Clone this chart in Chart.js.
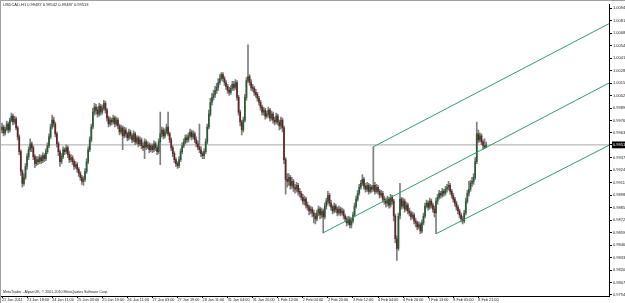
<!DOCTYPE html>
<html>
<head>
<meta charset="utf-8">
<script src="https://cdn.jsdelivr.net/npm/chart.js@4.4.1/dist/chart.umd.min.js"></script>
<style>
html, body { margin: 0; padding: 0; background: #fff; overflow: hidden; width: 625px; height: 303px; }
#wrap { position: absolute; left: 0; top: 0; width: 640px; height: 303px; box-sizing: border-box;
        border-left: 1px solid #a0a0a0; border-top: 1px solid #a0a0a0; }
#c { position: absolute; left: 0; top: 0; }
.txt { position: absolute; left: 3px; font-family: "Liberation Sans", Arial, sans-serif; color: #222; white-space: nowrap; }
</style>
</head>
<body>
<div id="wrap">
  <canvas id="c" width="639" height="302"></canvas>
</div>
<div class="txt" id="hdr" style="top:2px;font-size:4px;"></div>
<div class="txt" style="top:290px;font-size:3.6px;">MetaTrader - Alpari UK, © 2001-2010 MetaQuotes Software Corp.</div>
<script>
var symbol = "USDCAD,H1";
var bidPrice = 0.99513;

// one hourly bar per entry, 21 Jan 2011 -> 9 Feb 2011
var opens = [
0.99669,0.99700,0.99638,0.99679,0.99731,0.99669,0.99772,0.99814,0.99752,0.99783,
0.99690,0.99597,0.99442,0.99235,0.99111,0.99173,0.99287,0.99390,0.99462,0.99524,
0.99483,0.99390,0.99318,0.99359,0.99338,0.99380,0.99349,0.99400,0.99369,0.99442,
0.99504,0.99597,0.99700,0.99772,0.99731,0.99628,0.99524,0.99442,0.99338,0.99390,
0.99462,0.99442,0.99483,0.99411,0.99359,0.99380,0.99338,0.99287,0.99307,0.99256,
0.99214,0.99173,0.99132,0.99152,0.99235,0.99338,0.99462,0.99566,0.99700,0.99855,
0.99907,0.99876,0.99834,0.99917,0.99855,0.99896,0.99948,0.99876,0.99793,0.99731,
0.99772,0.99752,0.99793,0.99731,0.99772,0.99710,0.99648,0.99690,0.99607,0.99669,
0.99628,0.99586,0.99648,0.99607,0.99566,0.99628,0.99545,0.99586,0.99524,0.99566,
0.99504,0.99483,0.99545,0.99493,0.99514,0.99462,0.99504,0.99462,0.99524,0.99483,
0.99442,0.99545,0.99628,0.99669,0.99607,0.99648,0.99700,0.99628,0.99566,0.99483,
0.99421,0.99359,0.99318,0.99297,0.99359,0.99442,0.99504,0.99545,0.99586,0.99566,
0.99607,0.99648,0.99597,0.99628,0.99566,0.99524,0.99493,0.99462,0.99421,0.99400,
0.99442,0.99545,0.99700,0.99834,0.99959,1.00010,1.00041,1.00083,1.00114,1.00165,
1.00207,1.00248,1.00207,1.00165,1.00124,1.00083,1.00062,1.00103,1.00145,1.00114,
1.00165,1.00010,0.99855,0.99752,0.99669,0.99772,1.00010,1.00186,1.00227,1.00165,
1.00114,1.00103,1.00062,1.00041,1.00000,0.99959,0.99907,0.99855,0.99876,0.99814,
0.99834,0.99876,0.99793,0.99834,0.99772,0.99752,0.99814,0.99752,0.99710,0.99772,
0.99690,0.99359,0.99152,0.99132,0.99173,0.99090,0.99132,0.99070,0.99049,0.99090,
0.99028,0.99008,0.98966,0.98925,0.98946,0.98884,0.98863,0.98822,0.98842,0.98801,
0.98770,0.98739,0.98801,0.98842,0.98780,0.98822,0.98760,0.98873,0.98925,0.98987,
0.98904,0.98863,0.98822,0.98873,0.98842,0.98801,0.98842,0.98801,0.98822,0.98770,
0.98739,0.98698,0.98739,0.98677,0.98718,0.98780,0.98873,0.98946,0.99008,0.99070,
0.99111,0.99152,0.99080,0.99049,0.99090,0.99028,0.99070,0.99049,0.99090,0.99028,
0.99070,0.99028,0.98987,0.99008,0.98946,0.98925,0.98904,0.98946,0.98884,0.98966,
0.98925,0.98770,0.98532,0.98430,0.98770,0.98946,0.98873,0.98925,0.98842,0.98884,
0.98822,0.98801,0.98760,0.98780,0.98718,0.98698,0.98656,0.98677,0.98615,0.98698,
0.98770,0.98873,0.98904,0.98863,0.98925,0.98884,0.98842,0.98801,0.98925,0.98966,
0.99008,0.98987,0.99028,0.99008,0.99049,0.99070,0.99090,0.99028,0.98987,0.98946,
0.98904,0.98863,0.98822,0.98780,0.98739,0.98718,0.98801,0.98925,0.99008,0.99049,
0.99111,0.99132,0.99173,0.99338,0.99628,0.99566,0.99607,0.99545,0.99504,0.99487
];
var highs = [
0.99741,0.99721,0.99700,0.99762,0.99752,0.99793,0.99845,0.99834,0.99814,0.99803,
0.99710,0.99617,0.99462,0.99256,0.99214,0.99318,0.99421,0.99493,0.99576,0.99545,
0.99504,0.99411,0.99390,0.99390,0.99411,0.99400,0.99431,0.99421,0.99473,0.99535,
0.99628,0.99731,0.99824,0.99803,0.99752,0.99648,0.99545,0.99462,0.99421,0.99493,
0.99483,0.99514,0.99504,0.99442,0.99411,0.99400,0.99359,0.99338,0.99328,0.99276,
0.99235,0.99194,0.99183,0.99266,0.99369,0.99493,0.99597,0.99731,0.99896,0.99948,
0.99938,0.99907,0.99948,0.99938,0.99928,0.99979,0.99969,0.99896,0.99814,0.99803,
0.99793,0.99824,0.99814,0.99803,0.99793,0.99731,0.99721,0.99710,0.99700,0.99690,
0.99648,0.99679,0.99669,0.99628,0.99659,0.99648,0.99607,0.99607,0.99597,0.99586,
0.99535,0.99576,0.99566,0.99545,0.99535,0.99524,0.99524,0.99555,0.99545,0.99504,
0.99576,0.99855,0.99700,0.99690,0.99679,0.99731,0.99855,0.99648,0.99586,0.99504,
0.99442,0.99380,0.99338,0.99390,0.99473,0.99535,0.99576,0.99617,0.99617,0.99638,
0.99679,0.99669,0.99659,0.99648,0.99597,0.99555,0.99731,0.99493,0.99442,0.99473,
0.99576,0.99731,0.99876,1.00000,1.00052,1.00083,1.00124,1.00155,1.00207,1.00248,
1.00269,1.00269,1.00227,1.00186,1.00145,1.00114,1.00134,1.00176,1.00176,1.00196,
1.00186,1.00031,0.99876,0.99772,0.99803,1.00041,1.00217,1.00558,1.00248,1.00196,
1.00145,1.00124,1.00093,1.00062,1.00021,0.99979,0.99928,0.99907,0.99896,0.99865,
0.99907,0.99896,0.99865,0.99855,0.99803,0.99845,0.99834,0.99772,0.99803,0.99793,
0.99710,0.99380,0.99214,0.99214,0.99194,0.99173,0.99152,0.99101,0.99121,0.99111,
0.99059,0.99028,0.98997,0.98977,0.98966,0.98915,0.98884,0.98873,0.98863,0.98832,
0.98801,0.98832,0.98873,0.98863,0.98853,0.98842,0.98904,0.98956,0.99028,0.99008,
0.98935,0.98884,0.98904,0.98894,0.98863,0.98873,0.98863,0.98853,0.98842,0.98791,
0.98760,0.98770,0.98760,0.98749,0.98811,0.98904,0.98977,0.99039,0.99101,0.99142,
0.99204,0.99173,0.99111,0.99121,0.99111,0.99101,0.99090,0.99493,0.99121,0.99101,
0.99090,0.99049,0.99039,0.99028,0.98977,0.98956,0.98977,0.98966,0.98997,0.98987,
0.98946,0.98791,0.98563,0.98801,0.99111,0.98966,0.98956,0.98946,0.98915,0.98904,
0.98853,0.98822,0.98811,0.98801,0.98749,0.98718,0.98708,0.98698,0.98729,0.98801,
0.98904,0.98935,0.98925,0.98956,0.98946,0.98904,0.98873,0.98956,0.98997,0.99039,
0.99028,0.99059,0.99049,0.99080,0.99101,0.99132,0.99111,0.99049,0.99008,0.98966,
0.98925,0.98884,0.98842,0.98801,0.98770,0.98832,0.98956,0.99039,0.99132,0.99142,
0.99173,0.99214,0.99380,0.99752,0.99669,0.99638,0.99628,0.99566,0.99576,0.99542
];
var lows = [
0.99638,0.99607,0.99617,0.99659,0.99638,0.99648,0.99752,0.99721,0.99731,0.99669,
0.99566,0.99411,0.99194,0.99070,0.99090,0.99152,0.99256,0.99359,0.99442,0.99442,
0.99359,0.99276,0.99297,0.99307,0.99318,0.99318,0.99328,0.99338,0.99349,0.99421,
0.99483,0.99576,0.99679,0.99700,0.99597,0.99493,0.99400,0.99287,0.99318,0.99369,
0.99411,0.99421,0.99380,0.99328,0.99338,0.99307,0.99256,0.99266,0.99225,0.99183,
0.99142,0.99101,0.99090,0.99132,0.99214,0.99318,0.99442,0.99545,0.99679,0.99824,
0.99834,0.99803,0.99814,0.99824,0.99834,0.99876,0.99845,0.99762,0.99700,0.99710,
0.99721,0.99731,0.99700,0.99710,0.99679,0.99617,0.99628,0.99462,0.99586,0.99597,
0.99555,0.99566,0.99576,0.99535,0.99545,0.99514,0.99524,0.99493,0.99504,0.99473,
0.99452,0.99369,0.99462,0.99473,0.99431,0.99442,0.99431,0.99442,0.99452,0.99411,
0.99421,0.99307,0.99597,0.99576,0.99586,0.99628,0.99607,0.99535,0.99452,0.99390,
0.99328,0.99287,0.99266,0.99276,0.99338,0.99421,0.99483,0.99524,0.99535,0.99545,
0.99586,0.99566,0.99576,0.99535,0.99493,0.99462,0.99431,0.99390,0.99369,0.99369,
0.99421,0.99524,0.99679,0.99814,0.99928,0.99979,1.00010,1.00052,1.00083,1.00145,
1.00186,1.00176,1.00134,1.00093,1.00052,1.00031,1.00041,1.00083,1.00083,1.00093,
0.99979,0.99824,0.99710,0.99617,0.99648,0.99752,0.99979,1.00165,1.00134,1.00083,
1.00072,1.00031,1.00010,0.99969,0.99928,0.99876,0.99824,0.99824,0.99783,0.99793,
0.99803,0.99762,0.99772,0.99741,0.99721,0.99731,0.99721,0.99669,0.99679,0.99648,
0.99318,0.98997,0.99070,0.99090,0.99049,0.99059,0.99028,0.99008,0.99018,0.98987,
0.98966,0.98935,0.98894,0.98884,0.98853,0.98832,0.98780,0.98791,0.98760,0.98698,
0.98687,0.98718,0.98770,0.98739,0.98749,0.98594,0.98739,0.98842,0.98894,0.98873,
0.98832,0.98791,0.98801,0.98811,0.98770,0.98780,0.98770,0.98780,0.98739,0.98708,
0.98667,0.98677,0.98646,0.98646,0.98698,0.98760,0.98853,0.98925,0.98987,0.99049,
0.99090,0.99049,0.99018,0.99028,0.98997,0.99008,0.99018,0.99028,0.98997,0.99008,
0.98997,0.98956,0.98966,0.98915,0.98894,0.98863,0.98873,0.98853,0.98863,0.98894,
0.98718,0.98491,0.98306,0.98409,0.98739,0.98842,0.98853,0.98811,0.98822,0.98791,
0.98770,0.98729,0.98739,0.98687,0.98656,0.98625,0.98636,0.98584,0.98594,0.98677,
0.98749,0.98853,0.98832,0.98842,0.98853,0.98811,0.98760,0.98584,0.98894,0.98946,
0.98956,0.98966,0.98977,0.98987,0.99018,0.99039,0.98997,0.98956,0.98915,0.98873,
0.98832,0.98791,0.98749,0.98708,0.98687,0.98698,0.98780,0.98904,0.98977,0.99028,
0.99080,0.99101,0.99152,0.99318,0.99535,0.99545,0.99514,0.99462,0.99473,0.99487
];
var closes = [
0.99700,0.99638,0.99679,0.99731,0.99669,0.99772,0.99814,0.99752,0.99783,0.99690,
0.99597,0.99442,0.99235,0.99111,0.99173,0.99287,0.99390,0.99462,0.99524,0.99483,
0.99390,0.99318,0.99359,0.99338,0.99380,0.99349,0.99400,0.99369,0.99442,0.99504,
0.99597,0.99700,0.99772,0.99731,0.99628,0.99524,0.99442,0.99338,0.99390,0.99462,
0.99442,0.99483,0.99411,0.99359,0.99380,0.99338,0.99287,0.99307,0.99256,0.99214,
0.99173,0.99132,0.99152,0.99235,0.99338,0.99462,0.99566,0.99700,0.99855,0.99907,
0.99876,0.99834,0.99917,0.99855,0.99896,0.99948,0.99876,0.99793,0.99731,0.99772,
0.99752,0.99793,0.99731,0.99772,0.99710,0.99648,0.99690,0.99607,0.99669,0.99628,
0.99586,0.99648,0.99607,0.99566,0.99628,0.99545,0.99586,0.99524,0.99566,0.99504,
0.99483,0.99545,0.99493,0.99514,0.99462,0.99504,0.99462,0.99524,0.99483,0.99442,
0.99545,0.99628,0.99669,0.99607,0.99648,0.99700,0.99628,0.99566,0.99483,0.99421,
0.99359,0.99318,0.99297,0.99359,0.99442,0.99504,0.99545,0.99586,0.99566,0.99607,
0.99648,0.99597,0.99628,0.99566,0.99524,0.99493,0.99462,0.99421,0.99400,0.99442,
0.99545,0.99700,0.99834,0.99959,1.00010,1.00041,1.00083,1.00114,1.00165,1.00207,
1.00248,1.00207,1.00165,1.00124,1.00083,1.00062,1.00103,1.00145,1.00114,1.00165,
1.00010,0.99855,0.99752,0.99669,0.99772,1.00010,1.00186,1.00227,1.00165,1.00114,
1.00103,1.00062,1.00041,1.00000,0.99959,0.99907,0.99855,0.99876,0.99814,0.99834,
0.99876,0.99793,0.99834,0.99772,0.99752,0.99814,0.99752,0.99710,0.99772,0.99690,
0.99359,0.99152,0.99132,0.99173,0.99090,0.99132,0.99070,0.99049,0.99090,0.99028,
0.99008,0.98966,0.98925,0.98946,0.98884,0.98863,0.98822,0.98842,0.98801,0.98770,
0.98739,0.98801,0.98842,0.98780,0.98822,0.98760,0.98873,0.98925,0.98987,0.98904,
0.98863,0.98822,0.98873,0.98842,0.98801,0.98842,0.98801,0.98822,0.98770,0.98739,
0.98698,0.98739,0.98677,0.98718,0.98780,0.98873,0.98946,0.99008,0.99070,0.99111,
0.99152,0.99080,0.99049,0.99090,0.99028,0.99070,0.99049,0.99090,0.99028,0.99070,
0.99028,0.98987,0.99008,0.98946,0.98925,0.98904,0.98946,0.98884,0.98966,0.98925,
0.98770,0.98532,0.98430,0.98770,0.98946,0.98873,0.98925,0.98842,0.98884,0.98822,
0.98801,0.98760,0.98780,0.98718,0.98698,0.98656,0.98677,0.98615,0.98698,0.98770,
0.98873,0.98904,0.98863,0.98925,0.98884,0.98842,0.98801,0.98925,0.98966,0.99008,
0.98987,0.99028,0.99008,0.99049,0.99070,0.99090,0.99028,0.98987,0.98946,0.98904,
0.98863,0.98822,0.98780,0.98739,0.98718,0.98801,0.98925,0.99008,0.99049,0.99111,
0.99132,0.99173,0.99338,0.99628,0.99566,0.99607,0.99545,0.99504,0.99487,0.99513
];

// time axis labels, one every 16 bars
var xTickLabels = ["21 Jan 2011", "21 Jan 18:00", "24 Jan 11:00", "25 Jan 03:00", "25 Jan 19:00",
    "26 Jan 11:00", "27 Jan 03:00", "27 Jan 19:00", "28 Jan 11:00", "31 Jan 04:00", "31 Jan 20:00",
    "1 Feb 12:00", "2 Feb 04:00", "2 Feb 20:00", "3 Feb 12:00", "4 Feb 04:00", "4 Feb 20:00",
    "7 Feb 13:00", "8 Feb 05:00", "8 Feb 21:00"];
var barsPerLabel = 16;

// price axis labels
var yTickValues = [1.00940, 1.00810, 1.00680, 1.00549, 1.00419, 1.00289, 1.00159, 1.00028,
    0.99898, 0.99768, 0.99638, 0.99377, 0.99247, 0.99117, 0.98987, 0.98856, 0.98726, 0.98596,
    0.98466, 0.98335, 0.98205, 0.98075, 0.97945];

// Andrews pitchfork: anchors (median, upper, lower) and where each ray leaves the chart
var forkBars = [205, 237, 277];
var forkPrices = [0.98594, 0.99493, 0.98584];
var forkEndBar = 388;
var forkEndPrices = [1.00165, 1.00785, 0.99514];

var xMin = -0.64, xMax = 387.4;
var yMin = 0.97934, yMax = 1.00981;

var bullColor = "#285c35";
var bearColor = "#652424";
var wickColor = "#7e7e7e";
var forkColor = "#2f9e6c";

document.getElementById("hdr").textContent = symbol + "  " + opens[opens.length - 1].toFixed(5) + " " +
    highs[highs.length - 1].toFixed(5) + " " + lows[lows.length - 1].toFixed(5) + " " + closes[closes.length - 1].toFixed(5);

var wickData = [];
var bodyData = [];
var bodyColors = [];
for (var i = 0; i < closes.length; i++) {
    wickData.push({x: i, y: [lows[i], highs[i]]});
    bodyData.push({x: i, y: [opens[i], closes[i]]});
    bodyColors.push(closes[i] >= opens[i] ? bullColor : bearColor);
}

var forkSets = [];
for (var f = 0; f < forkBars.length; f++) {
    forkSets.push({
        type: "line",
        data: [{x: forkBars[f], y: forkPrices[f]}, {x: forkEndBar, y: forkEndPrices[f]}],
        borderColor: forkColor,
        borderWidth: 1,
        pointRadius: 0,
        order: 0
    });
}

var axisFont = {size: 4, family: "'Liberation Sans', Arial, sans-serif"};
var timeFont = {size: 3.8, family: "'Liberation Sans', Arial, sans-serif"};

new Chart(document.getElementById("c"), {
    data: {
        datasets: forkSets.concat([
            {
                type: "bar",
                data: bodyData,
                backgroundColor: bodyColors,
                barThickness: 1,
                minBarLength: 1,
                grouped: false,
                order: 1
            },
            {
                type: "bar",
                data: wickData,
                backgroundColor: wickColor,
                barThickness: 1,
                grouped: false,
                order: 2
            },
            {
                type: "line",
                data: [{x: xMin, y: bidPrice}, {x: xMax, y: bidPrice}],
                borderColor: "#a8a8a8",
                borderWidth: 1,
                pointRadius: 0,
                order: 3
            }
        ])
    },
    options: {
        responsive: false,
        animation: false,
        events: [],
        layout: {padding: 0},
        plugins: {
            legend: {display: false},
            tooltip: {enabled: false}
        },
        scales: {
            x: {
                type: "linear",
                min: xMin,
                max: xMax,
                offset: false,
                afterFit: function (s) { s.height = 7; },
                afterBuildTicks: function (s) {
                    s.ticks = xTickLabels.map(function (t, k) { return {value: k * barsPerLabel}; });
                },
                border: {display: true, color: "#000", width: 1},
                grid: {drawOnChartArea: false, drawTicks: true, tickLength: 2, color: "#000", offset: false},
                ticks: {
                    align: "start",
                    font: timeFont,
                    color: "#222",
                    padding: 0,
                    maxRotation: 0,
                    autoSkip: false,
                    callback: function (v, k) { return xTickLabels[k]; }
                }
            },
            y: {
                type: "linear",
                position: "right",
                min: yMin,
                max: yMax,
                afterFit: function (s) { s.width = 31; },
                afterBuildTicks: function (s) {
                    s.ticks = yTickValues.concat([bidPrice]).map(function (v) { return {value: v}; });
                },
                border: {display: true, color: "#000", width: 1},
                grid: {drawOnChartArea: false, drawTicks: true, tickLength: 3, color: "#000"},
                ticks: {
                    font: axisFont,
                    padding: 1,
                    autoSkip: false,
                    color: function (c) { return c.tick && c.tick.value === bidPrice ? "#fff" : "#222"; },
                    showLabelBackdrop: function (c) { return !!(c.tick && c.tick.value === bidPrice); },
                    backdropColor: "#000",
                    backdropPadding: {top: 1, bottom: 1, left: 1, right: 10},
                    callback: function (v) { return Number(v).toFixed(5); }
                }
            }
        }
    }
});
</script>
</body>
</html>
